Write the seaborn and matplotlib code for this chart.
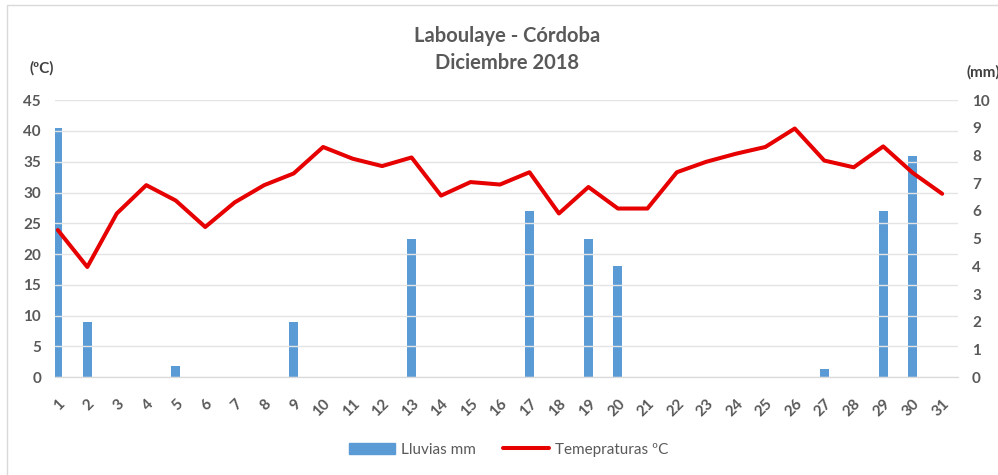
import numpy as np
import pandas as pd
import seaborn as sns
import matplotlib.pyplot as plt
from matplotlib.patches import Patch, Rectangle
from matplotlib.lines import Line2D

# data
days = list(range(1, 32))
temperatura = [23.9, 17.9, 26.6, 31.2, 28.7, 24.4, 28.4, 31.2, 33.1, 37.4,
               35.5, 34.3, 35.7, 29.5, 31.7, 31.3, 33.3, 26.6, 30.9, 27.4,
               27.4, 33.3, 35.0, 36.3, 37.4, 40.4, 35.2, 34.1, 37.5, 33.2, 29.8]
lluvias = [9, 2, 0, 0, 0.4, 0, 0, 0, 2, 0,
           0, 0, 5, 0, 0, 0, 6, 0, 5, 4,
           0, 0, 0, 0, 0, 0, 0.3, 0, 6, 8, 0]
temp_ticks = list(range(0, 50, 5))
mm_ticks = list(range(0, 11))

sns.set_style("white")
plt.rcParams['font.family'] = ['Lato', 'DejaVu Sans']

grey = "#595959"
blue = "#5b9bd5"
red = "#e60000"

fig = plt.figure(figsize=(9.98, 4.75), dpi=100)
ax = fig.add_axes([0.055, 0.206, 0.905, 0.583])
ax2 = ax.twinx()

# rain bars (right axis)
sns.barplot(x=days, y=lluvias, native_scale=True, width=0.3, color=blue,
            saturation=1, ax=ax2, linewidth=0)

# temperature line (left axis), drawn on top
sns.lineplot(x=days, y=temperatura, color=red, linewidth=2.9, ax=ax)
ax.set_zorder(ax2.get_zorder() + 1)
ax.patch.set_visible(False)

ax.set_xlim(0.9, 31.54)
ax.set_ylim(0, 45)
ax2.set_ylim(0, 10)
ax.set_yticks(temp_ticks)
ax2.set_yticks(mm_ticks)
ax.set_xticks(days)
ax.set_xticklabels([str(d) for d in days], rotation=45, ha='right',
                   rotation_mode='anchor', fontweight='bold', color=grey,
                   fontsize=11)
ax.tick_params(axis='x', direction='in', length=4, color="#d9d9d9", pad=14)
ax.tick_params(axis='y', length=0, labelsize=11, labelcolor=grey, pad=10)
ax2.tick_params(axis='y', length=0, labelsize=11, labelcolor=grey, pad=10)
for lab in ax.get_yticklabels() + ax2.get_yticklabels():
    lab.set_fontweight('bold')

ax.grid(axis='y', color="#e4e4e4", linewidth=1)
ax2.grid(False)
for a in (ax, ax2):
    for s in ['top', 'left', 'right']:
        a.spines[s].set_visible(False)
    a.spines['bottom'].set_color("#d9d9d9")
    a.set_xlabel("")
    a.set_ylabel("")

fig.text(0.508, 0.925, "Laboulaye - Córdoba", ha='center', va='center',
         fontsize=14.5, fontweight='bold', color=grey)
fig.text(0.508, 0.868, "Diciembre 2018", ha='center', va='center',
         fontsize=14.5, fontweight='bold', color=grey)
fig.text(0.042, 0.857, "(ºC)", ha='center', va='center', fontsize=11,
         fontweight='bold', color="#404040")
fig.text(0.985, 0.848, "(mm)", ha='center', va='center', fontsize=11,
         fontweight='bold', color="#404040")

handles = [Patch(facecolor=blue, edgecolor=blue),
           Line2D([0], [0], color=red, linewidth=2.9)]
fig.legend(handles, ["Lluvias mm", "Temepraturas ºC"], loc='center',
           bbox_to_anchor=(0.51, 0.053), ncol=2, frameon=False,
           fontsize=11, labelcolor=grey, handlelength=3.0, handletextpad=0.4,
           columnspacing=1.8)

fig.patches.append(Rectangle((0.007, -0.05), 1.05, 1.039, transform=fig.transFigure,
                             fill=False, edgecolor="#d9d9d9", linewidth=1))

fig.savefig("out.png", dpi=100)
